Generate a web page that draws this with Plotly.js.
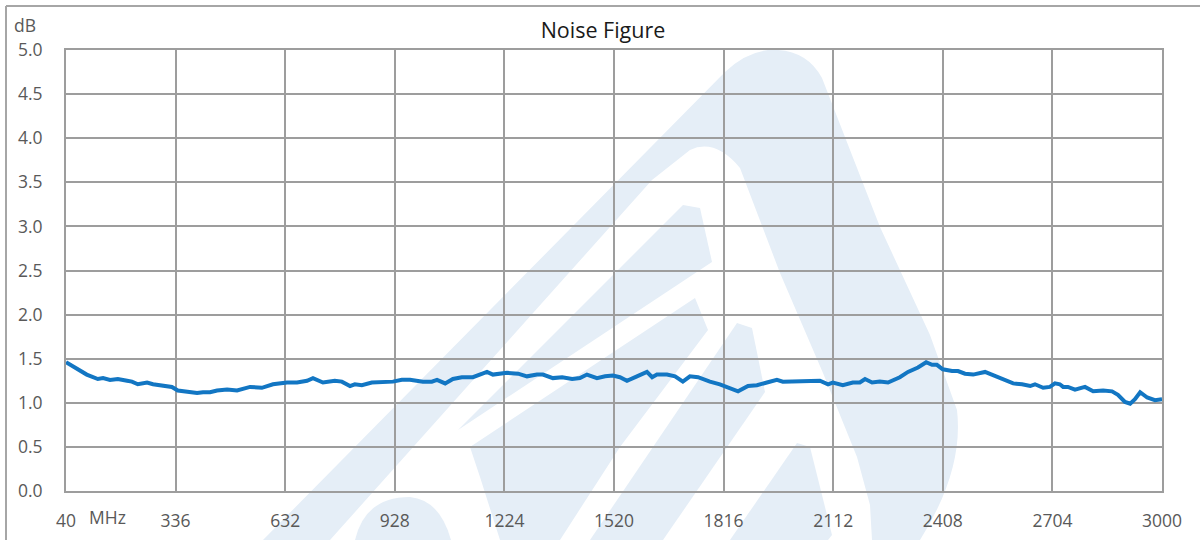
<!DOCTYPE html>
<html>
<head>
<meta charset="utf-8">
<script src="https://cdn.plot.ly/plotly-3.0.1.min.js"></script>
<style>
html,body{margin:0;padding:0;background:#fff;}
#chart{width:1200px;height:540px;}
</style>
</head>
<body>
<div id="chart"></div>
<script>
// ---- data ----
const freqMHz = [40,96,126,140,159,180,205,218,234,259,
275,302,326,342,367,394,410,429,448,475,
502,537,569,599,637,664,691,707,734,766,
785,807,820,839,866,896,923,947,969,1004,
1028,1042,1064,1085,1109,1139,1177,1193,1231,1261,
1285,1312,1328,1355,1380,1407,1428,1447,1461,1474,
1496,1517,1536,1555,1582,1609,1623,1636,1663,1685,
1706,1725,1747,1779,1806,1833,1855,1882,1906,1933,
1960,1976,2014,2076,2098,2111,2138,2165,2184,2198,
2217,2238,2260,2292,2314,2341,2363,2379,2392,2408,
2433,2449,2468,2490,2522,2549,2571,2598,2622,2644,
2657,2679,2697,2711,2724,2733,2746,2765,2792,2814,
2841,2865,2881,2900,2914,2927,2941,2960,2981,3000];

const noiseFigureDb = [1.46,1.32,1.27,1.28,1.26,1.27,1.25,1.24,1.21,1.23,
1.21,1.19,1.18,1.14,1.13,1.11,1.12,1.12,1.14,1.15,
1.14,1.18,1.17,1.21,1.23,1.23,1.25,1.28,1.23,1.25,
1.24,1.19,1.21,1.20,1.23,1.23,1.24,1.26,1.26,1.24,
1.24,1.26,1.22,1.27,1.29,1.29,1.35,1.32,1.34,1.33,
1.30,1.32,1.32,1.28,1.29,1.27,1.28,1.32,1.30,1.28,
1.30,1.31,1.29,1.25,1.30,1.35,1.29,1.32,1.32,1.30,
1.24,1.30,1.29,1.24,1.21,1.17,1.13,1.19,1.20,1.23,
1.26,1.24,1.24,1.25,1.21,1.23,1.20,1.23,1.23,1.27,
1.23,1.24,1.23,1.29,1.35,1.40,1.46,1.43,1.43,1.38,
1.36,1.36,1.33,1.32,1.35,1.30,1.27,1.22,1.21,1.19,
1.21,1.17,1.18,1.22,1.21,1.18,1.18,1.15,1.18,1.13,
1.14,1.13,1.09,1.01,0.99,1.04,1.12,1.06,1.03,1.04];

const xTickVals = [40,336,632,928,1224,1520,1816,2112,2408,2704,3000];
const xTickText = ["40","336","632","928","1224","1520","1816","2112","2408","2704","3000"];
const yTickVals = [0,0.5,1,1.5,2,2.5,3,3.5,4,4.5,5];
const yTickText = ["0.0","0.5","1.0","1.5","2.0","2.5","3.0","3.5","4.0","4.5","5.0"];

const chartTitle = "Noise Figure";
const yUnit = "dB";
const xUnit = "MHz";

// ---- layout helpers (decoration only) ----
const L = 66, R = 1162, T = 50, B = 491;
function px2paper(path){
  return path.replace(/(-?\d+\.?\d*),(-?\d+\.?\d*)/g, function(m,a,b){
    const x = (parseFloat(a)-L)/(R-L);
    const y = (B-parseFloat(b))/(B-T);
    return x.toFixed(5)+','+y.toFixed(5);
  });
}
const wm = '#e5eef7';
const wmPaths = [
  'M 263,540 L 725,72 Q 750,48 778,50 Q 808,52 822,78 L 880,227 L 930,335 L 957,410 Q 964,470 920,540 L 872,540 L 870,505 L 857,457 L 823,373 L 780,273 L 740,168 Q 715,138 690,150 L 652,180 L 330,540 Z',
  'M 683,205 L 700,208 L 712,262 L 458,430 Z',
  'M 470,447 L 695,298 L 708,330 L 620,447 L 560,540 L 500,540 L 480,477 Z',
  'M 737,323 L 752,328 L 765,392 L 663,540 L 590,540 Z',
  'M 797,443 L 810,447 L 832,535 L 828,540 L 730,540 Z',
  'M 355,540 Q 365,497 410,497 Q 440,500 451,540 Z'
];
const shapes = wmPaths.map(p => ({
  type:'path', xref:'paper', yref:'paper', path: px2paper(p),
  fillcolor: wm, line:{width:0}, layer:'below'
}));
// outer frame (top and left edges visible)
shapes.push({type:'line', xref:'paper', yref:'paper', layer:'below',
  x0:(6-L)/(R-L), x1:(1200-L)/(R-L), y0:(B-6)/(B-T), y1:(B-6)/(B-T),
  line:{color:'#a6a6a6', width:2}});
shapes.push({type:'line', xref:'paper', yref:'paper', layer:'below',
  x0:(6-L)/(R-L), x1:(6-L)/(R-L), y0:(B-6)/(B-T), y1:(B-545)/(B-T),
  line:{color:'#a6a6a6', width:2}});

const gridCol = '#9d9d9d';
const tickFont = {family:'"Open Sans", "Noto Sans", sans-serif', size:17.5, color:'#595959'};

const trace = {
  x: freqMHz, y: noiseFigureDb, type:'scatter', mode:'lines',
  line:{color:'#1276c3', width:4}, hoverinfo:'skip'
};

const layout = {
  width:1200, height:540,
  margin:{l:L, r:1200-R, t:T, b:540-B, pad:0},
  paper_bgcolor:'rgba(0,0,0,0)', plot_bgcolor:'rgba(0,0,0,0)',
  showlegend:false,
  title:{text:chartTitle, xref:'container', x:603/1200, xanchor:'center',
         yref:'container', y:1-30/540, yanchor:'middle',
         font:{family:'"Open Sans", "Noto Sans", sans-serif', size:21.5, color:'#1a1a1a'}},
  xaxis:{range:[40,3000], tickvals:xTickVals, ticktext:xTickText,
         showgrid:true, gridcolor:gridCol, gridwidth:2,
         showline:true, mirror:true, linecolor:gridCol, linewidth:2,
         zeroline:false, ticks:'', ticklabelstandoff:13, tickfont:tickFont, fixedrange:true},
  yaxis:{range:[0,5], tickvals:yTickVals, ticktext:yTickText,
         showgrid:true, gridcolor:gridCol, gridwidth:2,
         showline:true, mirror:true, linecolor:gridCol, linewidth:2,
         zeroline:false, ticks:'', ticklabelstandoff:18, tickfont:tickFont, fixedrange:true},
  shapes: shapes,
  annotations:[
    {text:yUnit, xref:'paper', yref:'paper', x:(25-L)/(R-L), y:(B-25)/(B-T),
     xanchor:'center', yanchor:'middle', showarrow:false, font:tickFont},
    {text:xUnit, xref:'paper', yref:'paper', x:(107-L)/(R-L), y:(B-517)/(B-T),
     xanchor:'center', yanchor:'middle', showarrow:false, font:tickFont}
  ]
};

Plotly.newPlot('chart', [trace], layout, {displayModeBar:false, staticPlot:true});
</script>
</body>
</html>
